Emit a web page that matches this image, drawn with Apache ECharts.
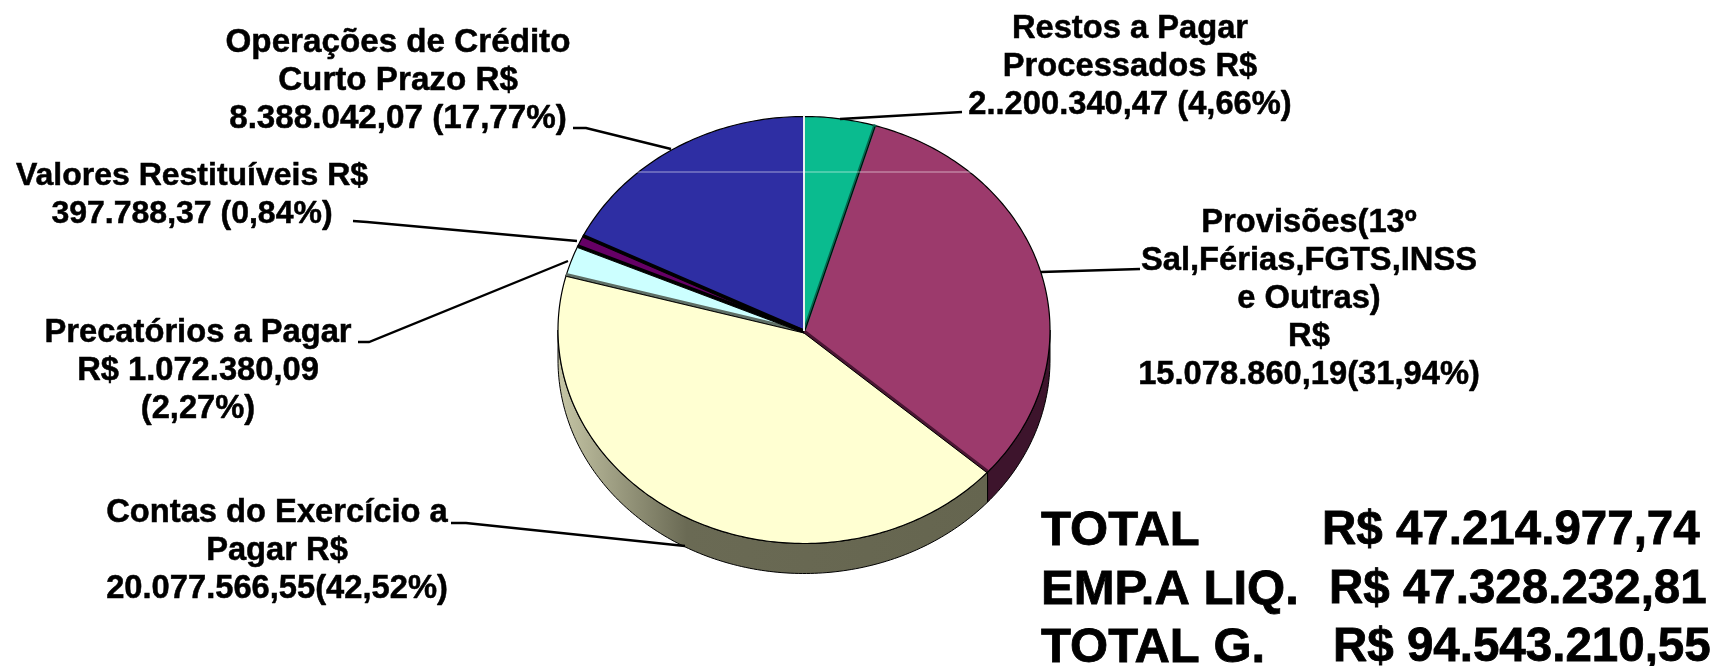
<!DOCTYPE html>
<html>
<head>
<meta charset="utf-8">
<style>
  html, body { margin: 0; padding: 0; background: #fff; }
  #chart { width: 1718px; height: 666px; }
</style>
<script src="https://cdn.jsdelivr.net/npm/echarts@6/dist/echarts.min.js"></script>
</head>
<body>
<div id="chart"></div>
<script>
// data, clockwise from 12 o'clock
var sliceNames = ['Restos a Pagar', 'Provisões', 'Contas do Exercício a Pagar', 'Precatórios a Pagar', 'Valores Restituíveis', 'Operações de Crédito']
var sliceValues = [2200340.47, 15078860.19, 20077566.55, 1072380.09, 397788.37, 8388042.07]

var sliceLabels = [
  'Restos a Pagar\nProcessados R$\n2..200.340,47 (4,66%)',
  'Provisões(13º\nSal,Férias,FGTS,INSS\ne Outras)\nR$\n15.078.860,19(31,94%)',
  'Contas do Exercício a\nPagar R$\n20.077.566,55(42,52%)',
  'Precatórios a Pagar\nR$ 1.072.380,09\n(2,27%)',
  'Valores Restituíveis R$\n397.788,37 (0,84%)',
  'Operações de Crédito\nCurto Prazo R$\n8.388.042,07 (17,77%)'
]
var totalLabels = ['TOTAL', 'EMP.A LIQ.', 'TOTAL G.']
var totalValues = ['R$ 47.214.977,74', 'R$ 47.328.232,81', 'R$ 94.543.210,55']

// styles
var faceColors = ['#0abb8f', '#9c3a6c', '#ffffd2', '#ccffff', '#660066', '#2e2ea3']
// bevel colour on the closing edge of each slice
var edgeColors = ['#06664e', '#4a1533', '#5f6f66', '#000000', '#000000', '#e8f0f0']
var wallYellow = {
  type: 'linear', x: 0, y: 0, x2: 1, y2: 0,
  colorStops: [
    { offset: 0, color: '#c6c6a6' },
    { offset: 0.3, color: '#6a6a54' },
    { offset: 1, color: '#65654f' }
  ]
}
var wallColors = ['#065', '#3d142c', wallYellow, '#889', '#303', '#115']

// layout
var cx = 804, cy = 330, rx = 246, ry = 213.5, depth = 30
var fontFamily = '"Liberation Sans", Arial, sans-serif'
var labelSizes = [32.7, 32.7, 32.7, 32.7, 32, 33.2]
var labelPos = [[1130, 67], [1309, 299], [277, 551], [198, 371], [192, 195], [398, 81]]
var leaders = [
  [[962, 112], [840, 119]],
  [[1140, 269], [1041, 272]],
  [[451, 523], [466, 523], [685, 546]],
  [[358, 342], [369, 342], [568, 261]],
  [[353, 221], [367, 222], [577, 241]],
  [[573, 128], [586, 128], [671, 149]]
]
var totalX = [1041, 1322, 1329, 1333]
var totalY = [531, 590, 648]

var total = sliceValues.reduce(function (a, b) { return a + b }, 0)

function angles(i) {
  var sum = 0
  for (var k = 0; k < i; k++) sum += sliceValues[k]
  return [sum / total * Math.PI * 2, (sum + sliceValues[i]) / total * Math.PI * 2]
}
function pt(a, dy) {
  return [cx + rx * Math.sin(a), cy - ry * Math.cos(a) + (dy || 0)]
}
function arc(a0, a1, dy) {
  var pts = []
  var n = Math.max(2, Math.ceil(Math.abs(a1 - a0) * 60))
  for (var k = 0; k <= n; k++) pts.push(pt(a0 + (a1 - a0) * k / n, dy))
  return pts
}

// side wall, only the front half of the disc shows
function renderWall(params, api) {
  var a = angles(params.dataIndex)
  var a0 = Math.max(a[0], Math.PI / 2)
  var a1 = Math.min(a[1], Math.PI * 1.5)
  if (a1 <= a0) return { type: 'group', children: [] }
  var pts = arc(a0, a1, 0).concat(arc(a1, a0, depth))
  return {
    type: 'polygon',
    shape: { points: pts },
    style: { fill: wallColors[params.dataIndex], stroke: '#000', lineWidth: 1 }
  }
}

function renderFace(params, api) {
  var i = params.dataIndex
  var a = angles(i)
  return {
    type: 'polygon',
    shape: { points: [[cx, cy + 2]].concat(arc(a[0], a[1], 0)) },
    style: { fill: faceColors[i], stroke: '#000', lineWidth: 1.2 }
  }
}

// bevel along the closing edge, drawn over all the faces
function renderEdge(params, api) {
  var i = params.dataIndex
  var end = pt(angles(i)[1])
  var children = [{
    type: 'line',
    shape: { x1: cx, y1: cy + 1, x2: end[0], y2: end[1] - 1 },
    style: { stroke: edgeColors[i], lineWidth: i == 5 ? 2 : 3 }
  }]
  if (i != 5) {
    children.push({
      type: 'line',
      shape: { x1: cx, y1: cy + 3, x2: end[0], y2: end[1] + 1 },
      style: { stroke: '#000', lineWidth: 1 }
    })
  }
  return { type: 'group', children: children }
}

var graphics = []
leaders.forEach(function (p) {
  graphics.push({
    type: 'polyline',
    shape: { points: p },
    style: { stroke: '#000', lineWidth: 2.4, fill: null },
    z: 10
  })
})
sliceLabels.forEach(function (t, i) {
  graphics.push({
    type: 'text',
    x: labelPos[i][0],
    y: labelPos[i][1],
    style: {
      text: t,
      font: 'bold ' + labelSizes[i] + 'px ' + fontFamily,
      lineHeight: 37.8,
      fill: '#000',
      stroke: '#000',
      lineWidth: 0.5,
      align: 'center',
      verticalAlign: 'middle'
    },
    z: 10
  })
})
totalLabels.forEach(function (t, i) {
  graphics.push({
    type: 'text', x: totalX[0], y: totalY[i],
    style: { text: t, font: 'bold 49px ' + fontFamily, fill: '#000', stroke: '#000', lineWidth: 0.8, align: 'left', verticalAlign: 'middle' },
    z: 10
  })
  graphics.push({
    type: 'text', x: totalX[i + 1], y: totalY[i],
    style: { text: totalValues[i], font: 'bold 47.5px ' + fontFamily, fill: '#000', stroke: '#000', lineWidth: 0.8, align: 'left', verticalAlign: 'middle' },
    z: 10
  })
})
// pale scan line across the top of the pie
graphics.push({
  type: 'line',
  shape: { x1: 634, y1: 172, x2: 975, y2: 172 },
  style: { stroke: 'rgba(255,255,255,0.55)', lineWidth: 1 },
  z: 9
})

var chart = echarts.init(document.getElementById('chart'))
chart.setOption({
  backgroundColor: '#fff',
  animation: false,
  graphic: graphics,
  series: [
    {
      type: 'custom',
      name: 'wall',
      coordinateSystem: 'none',
      silent: true,
      z: 1,
      data: sliceValues,
      renderItem: renderWall
    },
    {
      type: 'custom',
      name: 'face',
      coordinateSystem: 'none',
      z: 2,
      data: sliceNames.map(function (n, i) { return { name: n, value: sliceValues[i] } }),
      renderItem: renderFace
    },
    {
      type: 'custom',
      name: 'edge',
      coordinateSystem: 'none',
      silent: true,
      z: 3,
      data: sliceValues,
      renderItem: renderEdge
    }
  ]
})
</script>
</body>
</html>
